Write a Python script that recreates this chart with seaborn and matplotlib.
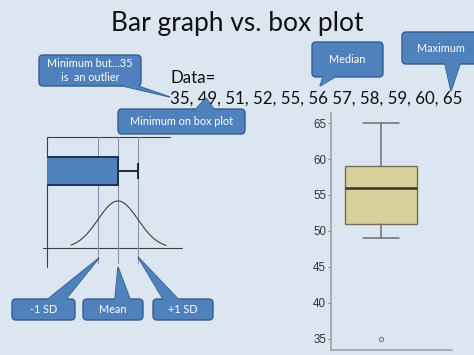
import numpy as np
import matplotlib
matplotlib.use('Agg')
import matplotlib.pyplot as plt
import seaborn as sns
from matplotlib.patches import FancyBboxPatch, Polygon

# Data shown on the slide
data_values = [35, 49, 51, 52, 55, 56, 57, 58, 59, 60, 65]
data_label = '35, 49, 51, 52, 55, 56 57, 58, 59, 60, 65'
box_yticks = [35, 40, 45, 50, 55, 60, 65]

title = 'Bar graph vs. box plot'
callout_texts = ['Minimum but...35\nis  an outlier', 'Minimum on box plot', 'Median',
                 'Maximum', '-1 SD', 'Mean', '+1 SD']

BG = '#dce6f1'
BLUE = '#4f81bd'
BLUE_EDGE = '#385d8a'
W, H = 474, 355

sns.set_theme(style='white')
plt.rcParams['font.family'] = ['Lato', 'DejaVu Sans']

fig = plt.figure(figsize=(W / 100, H / 100), dpi=100, facecolor=BG)


def px_rect(x0, y0, x1, y1):
    return [x0 / W, (H - y1) / H, (x1 - x0) / W, (y1 - y0) / H]


# ---------------- left: bar with mean +/- SD and normal curve
mean = np.mean(data_values)
sd = np.std(data_values, ddof=1)

axl = fig.add_axes(px_rect(47, 137, 170, 248))
axl.axis('off')
axl.set_xlim(mean - 3.55 * sd, mean + 2.6 * sd)
axl.set_ylim(0, 111)

line_col = '#3f3f3f'
xl0, xl1 = axl.get_xlim()
axl.plot([xl0, xl1], [111, 111], color=line_col, lw=0.8, clip_on=False)
axl.plot([xl0, xl0], [111, -19], color=line_col, lw=0.8, clip_on=False)
axl.plot([mean - 3.75 * sd, mean + 3.2 * sd], [0, 0], color=line_col, lw=0.8, clip_on=False)
for k in [-1, 0, 1]:
    axl.plot([mean + k * sd] * 2, [111, -15], color='#7d97b8', lw=0.8, clip_on=False)

axl.barh(77, mean, height=28, left=0, color=BLUE, edgecolor='#1f3350', lw=1.4, zorder=3)
axl.errorbar(mean, 77, xerr=[[0], [sd]], color='#1f2a3a', lw=1.4, capsize=5.5,
             capthick=1.4, zorder=2)

xs = np.linspace(mean - 2.35 * sd, mean + 2.4 * sd, 200)
pdf = np.exp(-0.5 * ((xs - mean) / sd) ** 2)
sns.lineplot(x=xs, y=pdf * 47, ax=axl, color=line_col, lw=0.8)

# ---------------- right: box plot
axr = fig.add_axes(px_rect(331, 113, 452, 350))
axr.set_facecolor('none')
vals = np.sort(data_values)
n = len(vals)
med = np.median(vals)
q1 = np.median(vals[: n // 2])
q3 = np.median(vals[(n + 1) // 2:])
iqr = q3 - q1
inside = vals[(vals >= q1 - 1.5 * iqr) & (vals <= q3 + 1.5 * iqr)]
stats = [dict(med=med, q1=q1, q3=q3, whislo=inside.min(), whishi=inside.max(),
              fliers=vals[(vals < inside.min()) | (vals > inside.max())])]
axr.bxp(stats, positions=[0], widths=0.595, capwidths=0.3, patch_artist=True,
        boxprops=dict(facecolor='#d6d09a', edgecolor='#77704f', lw=1),
        medianprops=dict(color='#3a3422', lw=1.8),
        whiskerprops=dict(color='#6f6f6f', lw=1.1),
        capprops=dict(color='#6f6f6f', lw=1.1),
        flierprops=dict(marker='o', markersize=3, markerfacecolor='none',
                        markeredgecolor='#6f6f6f', markeredgewidth=0.7))
axr.set_xlim(-0.413, 0.587)
axr.set_ylim(33.47, 66.39)
axr.set_xticks([])
axr.set_yticks(box_yticks)
axr.set_yticklabels([str(t) for t in box_yticks], family='Liberation Sans', fontsize=8.3,
                    color='#333333')
axr.tick_params(axis='y', left=True, length=2.5, width=0.8, color='#888888', pad=1)
for s in ['top', 'right']:
    axr.spines[s].set_visible(False)
for s in ['left', 'bottom']:
    axr.spines[s].set_color('#a0a0a8')
    axr.spines[s].set_linewidth(1.2)

# ---------------- overlay: title, data text and callouts
ov = fig.add_axes([0, 0, 1, 1], zorder=5)
ov.set_xlim(0, W)
ov.set_ylim(H, 0)
ov.axis('off')

ov.text(237, 24, title, ha='center', va='center', fontsize=19, color='#111111')
ov.text(171, 78, 'Data=', ha='left', va='center', fontsize=12.2, color='#111111')
ov.text(170, 99, data_label, ha='left', va='center', fontsize=12.2, color='#111111')


def callout(box, tail, text, fs=7.8):
    x0, y0, x1, y1 = box
    ov.add_patch(Polygon(tail, closed=True, facecolor=BLUE, edgecolor=BLUE_EDGE, lw=1, zorder=1))
    ov.add_patch(FancyBboxPatch((x0, y0), x1 - x0, y1 - y0,
                                boxstyle='round,pad=0,rounding_size=4',
                                facecolor=BLUE, edgecolor=BLUE_EDGE, lw=1, zorder=2))
    # cover the box outline where the tail joins
    (bx0, by0), (bx1, by1) = tail[0], tail[2]
    cy = (y0 + y1) / 2
    inner = [(bx0, by0 + np.sign(cy - by0) * 3), tail[1], (bx1, by1 + np.sign(cy - by1) * 3)]
    inner = [tail[0], tail[1], tail[2], inner[2], inner[0]]
    ov.add_patch(Polygon(inner, closed=True, facecolor=BLUE, edgecolor='none', zorder=3))
    ov.text((x0 + x1) / 2, (y0 + y1) / 2, text, ha='center', va='center', fontsize=fs,
            color='white', linespacing=1.3, zorder=4)


callout((39, 55, 141, 86), [(123, 86), (170, 97), (138, 86)], callout_texts[0])
callout((118, 109, 245, 134), [(196, 109), (206, 98), (214, 109)], callout_texts[1])
callout((312, 42, 383, 77), [(323, 77), (320, 86), (335, 77)], callout_texts[2])
callout((402, 32, 480, 64), [(445, 64), (451, 91), (460, 64)], callout_texts[3])
callout((12, 299, 75, 320), [(48, 299), (99, 258), (66, 299)], callout_texts[4])
callout((83, 299, 143, 320), [(115, 299), (118, 267), (130, 299)], callout_texts[5])
callout((153, 299, 213, 320), [(163, 299), (138, 257), (178, 299)], callout_texts[6])

fig.savefig('out.png', dpi=100, facecolor=BG)
